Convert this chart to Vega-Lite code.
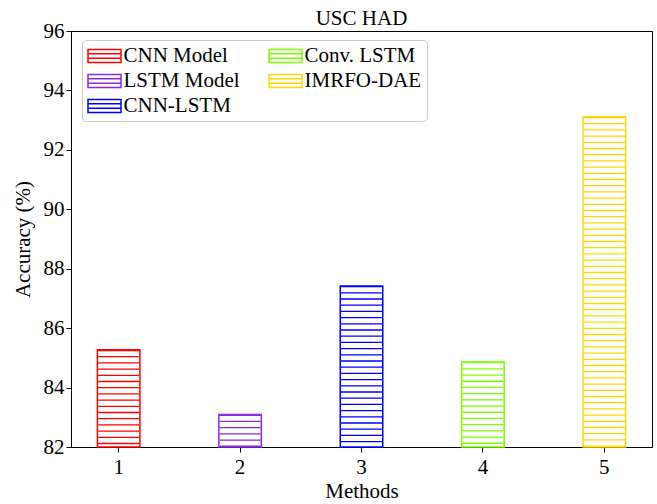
{
  "$schema": "https://vega.github.io/schema/vega-lite/v6.json",
  "width": 581,
  "height": 416,
  "autosize": {"type": "none"},
  "padding": {"left": 71, "top": 31, "right": 5, "bottom": 57},
  "background": "white",
  "title": {"text": "USC HAD", "font": "Liberation Serif", "fontSize": 21, "fontWeight": "normal", "color": "black", "offset": -9, "frame": "group"},
  "config": {
    "view": {"stroke": "black", "strokeWidth": 1},
    "font": "Liberation Serif",
    "axis": {
      "labelFont": "Liberation Serif", "titleFont": "Liberation Serif",
      "labelFontSize": 21, "titleFontSize": 21, "titleFontWeight": "normal",
      "labelColor": "black", "titleColor": "black", "tickColor": "black", "domainColor": "black",
      "grid": false, "tickSize": 5
    },
    "legend": {"labelFont": "Liberation Serif", "labelFontSize": 21, "labelColor": "black"}
  },
  "data": {
    "values": [
      {"method": "1", "name": "CNN Model", "acc": 85.27},
      {"method": "2", "name": "LSTM Model", "acc": 83.09},
      {"method": "3", "name": "CNN-LSTM", "acc": 87.42},
      {"method": "4", "name": "Conv. LSTM", "acc": 84.86},
      {"method": "5", "name": "IMRFO-DAE", "acc": 93.11}
    ]
  },
  "encoding": {
    "x": {
      "field": "method", "type": "nominal",
      "scale": {"paddingInner": 0.65, "paddingOuter": 0.2175},
      "axis": {"labelAngle": 0, "title": "Methods", "titlePadding": 3, "labelPadding": 4}
    },
    "y": {
      "field": "acc", "type": "quantitative",
      "scale": {"domain": [82, 96], "nice": false, "zero": false},
      "axis": {"title": "Accuracy (%)", "values": [82, 84, 86, 88, 90, 92, 94, 96], "titlePadding": 10, "labelPadding": 2}
    },
    "y2": {"datum": 82},
    "stroke": {
      "field": "name", "type": "nominal",
      "scale": {"domain": ["CNN Model", "LSTM Model", "CNN-LSTM", "Conv. LSTM", "IMRFO-DAE"], "range": ["#ff0000", "#8a2be2", "#0000ff", "#7cfc00", "#ffd700"]},
      "legend": {
        "title": null, "orient": "none", "legendX": 11, "legendY": 9,
        "columns": 2, "columnPadding": 26, "rowPadding": 4,
        "symbolType": "M-1.65,-0.65H1.65V0.65H-1.65Z M-1.65,-0.22H1.65 M-1.65,0.22H1.65",
        "symbolSize": 400, "symbolFillColor": "white", "symbolStrokeWidth": 1.5,
        "symbolOffset": 6.5, "labelOffset": 8,
        "fillColor": "white", "strokeColor": "#cccccc", "cornerRadius": 4, "padding": 5
      }
    }
  },
  "layer": [
    {
      "mark": {"type": "rule", "strokeWidth": 41, "strokeDash": [1.3, 4.9]}
    },
    {
      "mark": {"type": "bar", "fill": "transparent", "strokeWidth": 1.5}
    }
  ]
}
